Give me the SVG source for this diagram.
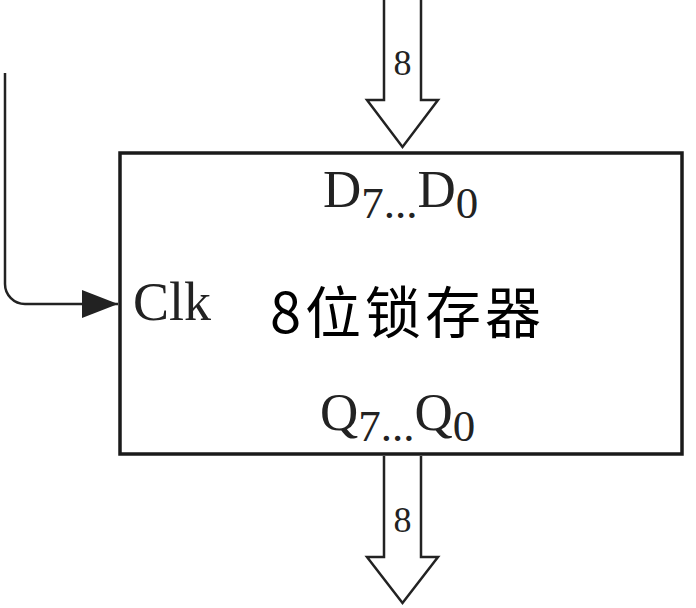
<svg xmlns="http://www.w3.org/2000/svg" width="696" height="608" viewBox="0 0 696 608">
<style>
.ln{fill:none;stroke:#222;stroke-width:2.5}
.bus{fill:#fff;stroke:#222;stroke-width:2.5;stroke-linejoin:miter}
.tr{font-family:"Liberation Serif","Times New Roman",serif;fill:#222}
.cjk{font-family:"Noto Sans CJK SC","Noto Sans",sans-serif;fill:#000}
</style>
<defs>
<marker id="ah" markerWidth="36" markerHeight="28" refX="36" refY="14" orient="auto" markerUnits="userSpaceOnUse">
<path d="M0,0 L36,14 L0,28 Z" fill="#222"/>
</marker>
</defs>
<rect width="696" height="608" fill="#fff"/>
<g id="latch">
<rect x="120" y="153" width="562" height="301" fill="#fff" stroke="#1a1a1a" stroke-width="3.5"/>
<text class="tr" x="323" y="207" font-size="53">D<tspan font-size="45" dy="11">7...</tspan><tspan dy="-11">D</tspan><tspan font-size="45" dy="11">0</tspan></text>
<text class="cjk" x="270" y="333" font-size="56" letter-spacing="4">8位锁存器</text>
<text class="tr" x="320" y="430" font-size="53">Q<tspan font-size="45" dy="11">7...</tspan><tspan dy="-11">Q</tspan><tspan font-size="45" dy="11">0</tspan></text>
<text class="tr" x="133" y="320" font-size="54">Clk</text>
</g>
<g id="connectors">
<path class="ln" d="M5,73 V284 A20,20 0 0 0 25,304 H118" marker-end="url(#ah)"/>
<path class="bus" d="M384,-3 V100 H367 L402.5,147 L438,100 H421 V-3"/>
<text class="tr" x="402.5" y="75" font-size="36" text-anchor="middle">8</text>
<path class="bus" d="M384,456 V557 H367 L402.5,603 L438,557 H421 V456"/>
<text class="tr" x="402.5" y="532" font-size="36" text-anchor="middle">8</text>
</g>
</svg>
